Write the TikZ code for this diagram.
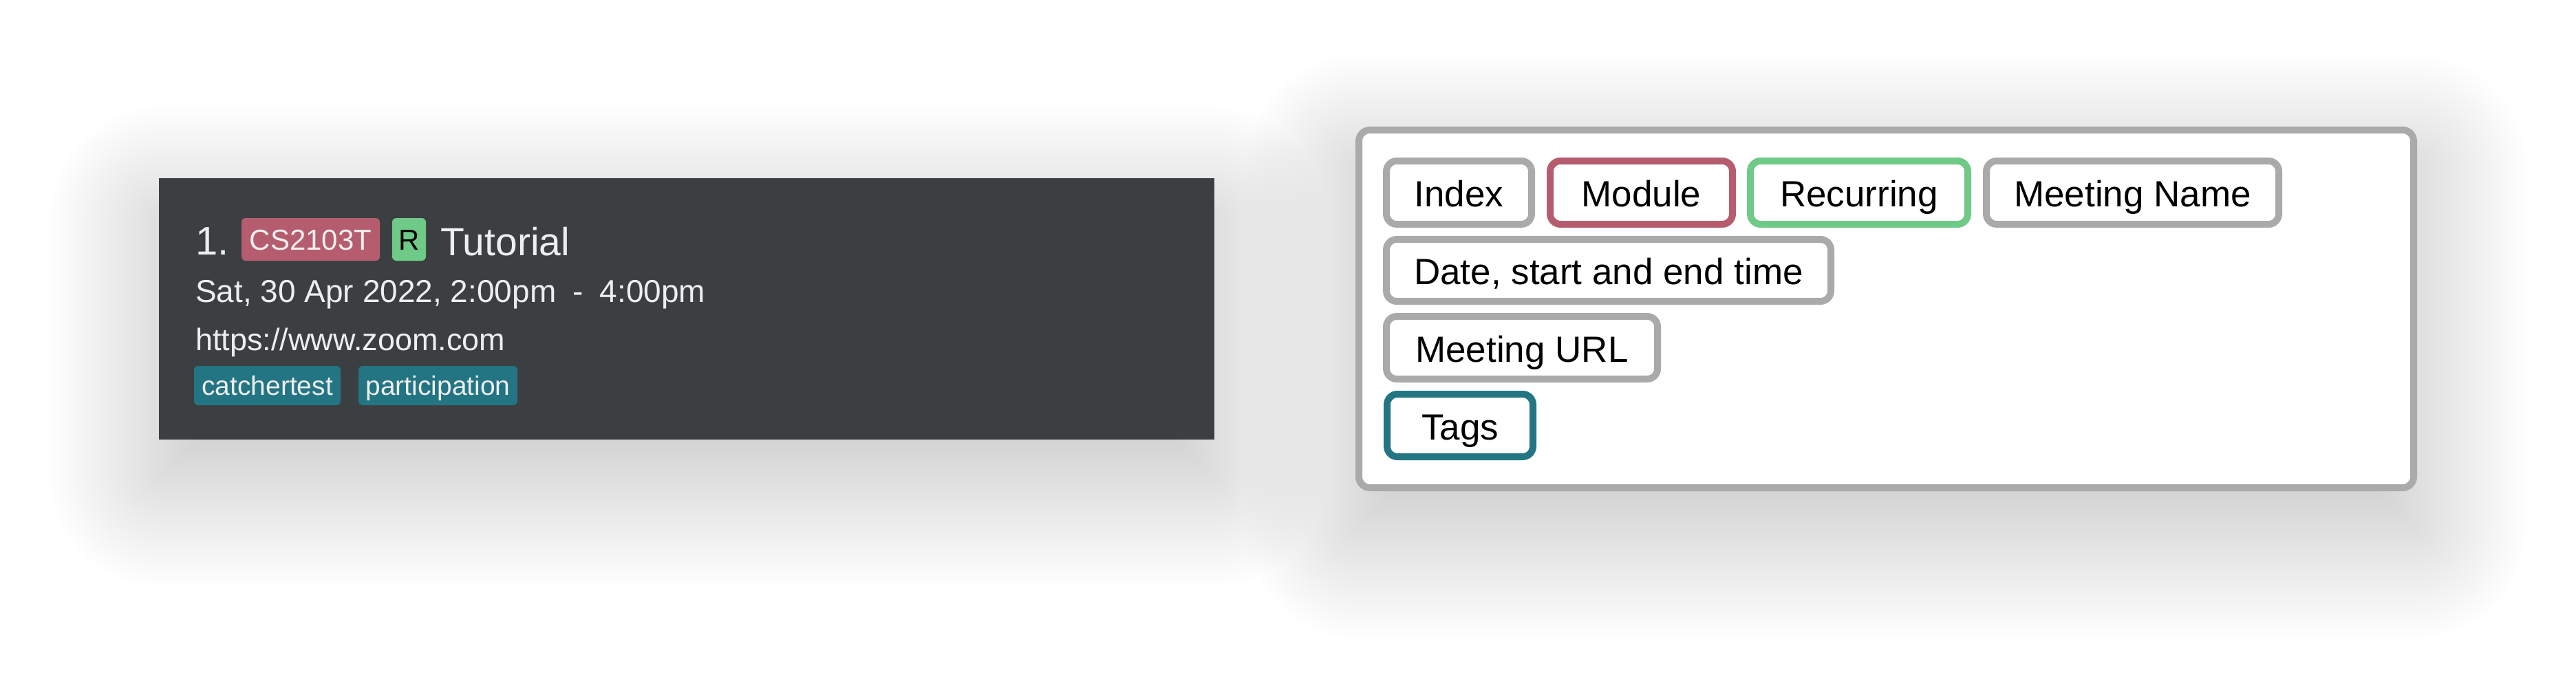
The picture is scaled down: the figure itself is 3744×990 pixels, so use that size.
\documentclass[tikz,border=0pt]{standalone}
\usepackage{fontspec}
\setmainfont{Liberation Sans}
\definecolor{panelbg}{HTML}{3B3F41}
\definecolor{modred}{HTML}{B55D6F}
\definecolor{recgreen}{HTML}{6FC987}
\definecolor{tagteal}{HTML}{237583}
\definecolor{chipgray}{HTML}{AAAAAA}
\definecolor{lighttext}{HTML}{EEEEEE}
\begin{document}
\begin{tikzpicture}[x=1pt,y=-1pt,
  shadowlayer/.style={fill=black, opacity=0.0045},
  lchip/.style={rectangle, rounded corners=6pt, inner sep=0pt, text=lighttext, font=\fontsize{42}{50}\selectfont, text height=30pt, text depth=0pt},
  tagchip/.style={lchip, fill=tagteal, font=\fontsize{39}{46}\selectfont, text height=28pt, minimum height=57pt},
  rchip/.style={rectangle, rounded corners=15pt, draw=chipgray, line width=10pt, fill=white, inner sep=0pt, font=\fontsize{53}{60}\selectfont, text height=41pt, text depth=0pt, minimum height=92pt},
  ltext/.style={anchor=base west, inner sep=0pt, text=lighttext}]

\useasboundingbox (0,0) rectangle (3744,990);
\fill[white] (0,0) rectangle (3744,990);

% soft drop shadows
\foreach \i in {0,...,44}{
  \pgfmathsetmacro\e{160-5*\i}
  \pgfmathsetmacro\rc{max(\e,0)+4}
  \fill[shadowlayer, rounded corners=\rc pt] ({231-(\e)},{314-(\e)}) rectangle ({1765+(\e)},{694+(\e)});
  \fill[shadowlayer, rounded corners=\rc pt] ({1970-(\e)},{239-(\e)}) rectangle ({3513+(\e)},{769+(\e)});
}

% panels
\node[fill=panelbg, minimum width=1534pt, minimum height=380pt, inner sep=0pt] (lp) at (998,449) {};
\node[fill=white, draw=chipgray, line width=10pt, rounded corners=16pt, minimum width=1533pt, minimum height=520pt, inner sep=0pt] (rp) at (2741.5,449) {};

% left panel content
\node[ltext, font=\fontsize{58}{70}\selectfont] (idx) at (284,370) {1.};
\node[lchip, fill=modred, minimum width=201pt, minimum height=62pt] (mod) at (451.5,348) {CS2103T};
\node[lchip, fill=recgreen, text=black, minimum width=49pt, minimum height=62pt] (rec) at (594.5,348) {R};
\node[ltext, font=\fontsize{57}{70}\selectfont] (name) at (640,371) {Tutorial};
\node[ltext, font=\fontsize{46}{54}\selectfont] (date) at (284,439) {Sat, 30 Apr 2022, 2:00pm\hspace{24pt}-\hspace{24pt}4:00pm};
\node[ltext, font=\fontsize{45}{54}\selectfont] (url) at (284,509) {https://www.zoom.com};
\node[tagchip, minimum width=213pt] (tag1) at (388.5,560.5) {catchertest};
\node[tagchip, minimum width=231pt] (tag2) at (636.5,560.5) {participation};

% right panel chips
\node[rchip, minimum width=211pt] (cidx) at (2120.5,280) {Index};
\node[rchip, draw=modred, minimum width=265pt] (cmod) at (2385.5,280) {Module};
\node[rchip, draw=recgreen, minimum width=316pt] (crec) at (2702,280) {Recurring};
\node[rchip, minimum width=425pt] (cname) at (3099.5,280) {Meeting Name};
\node[rchip, minimum width=646pt, minimum height=90pt] (cdate) at (2338,393) {Date, start and end time};
\node[rchip, minimum width=394pt, minimum height=91pt] (curl) at (2212,505.5) {Meeting URL};
\node[rchip, draw=tagteal, minimum width=212pt, minimum height=91pt] (ctag) at (2122,618.5) {Tags};
\end{tikzpicture}
\end{document}
